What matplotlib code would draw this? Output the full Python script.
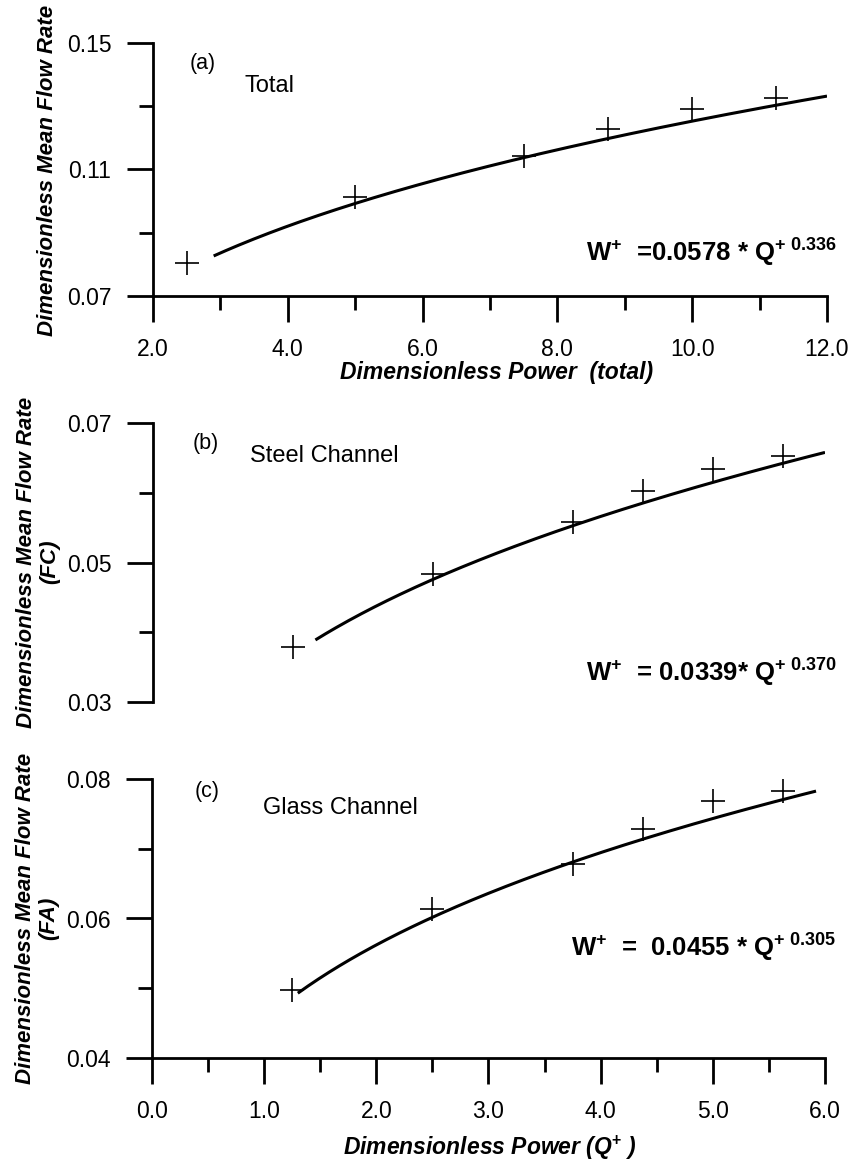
import numpy as np
import matplotlib
matplotlib.use("Agg")
import matplotlib.pyplot as plt
from matplotlib.ticker import MultipleLocator, FixedLocator, FormatStrFormatter

plt.rcParams['font.family'] = ['Liberation Sans', 'DejaVu Sans']
plt.rcParams['mathtext.fontset'] = 'custom'
plt.rcParams['mathtext.rm'] = 'Liberation Sans'
plt.rcParams['mathtext.bf'] = 'Liberation Sans:bold'
plt.rcParams['mathtext.it'] = 'Liberation Sans:italic'

# Measured dimensionless power and mean flow rate
q_total = [2.5, 5.0, 7.5, 8.75, 10.0, 11.25]
w_total = [0.0803, 0.1013, 0.1144, 0.1228, 0.1291, 0.1326]

q_channel = [1.25, 2.5, 3.75, 4.375, 5.0, 5.625]
w_steel = [0.0379, 0.0483, 0.0558, 0.0602, 0.0634, 0.0653]
w_glass = [0.0497, 0.0614, 0.0678, 0.0729, 0.0768, 0.0783]

# Power-law fits W+ = a * Q+^b
fit_total = (0.0578, 0.336)
fit_steel = (0.0339, 0.370)
fit_glass = (0.0455, 0.305)
fit_range_total = (2.9, 12.0)
fit_range_steel = (1.45, 6.0)
fit_range_glass = (1.3, 5.92)

# Axis ticks
yticks_total = [0.07, 0.11, 0.15]
yminor_total = [0.09, 0.13]
yticks_steel = [0.03, 0.05, 0.07]
yminor_steel = [0.04, 0.06]
yticks_glass = [0.04, 0.06, 0.08]
yminor_glass = [0.05, 0.07]

W, H = 853, 1164
fig = plt.figure(figsize=(W / 100, H / 100), dpi=100)


def px_axes(left, top, right, bottom):
    return fig.add_axes([left / W, 1 - bottom / H, (right - left) / W, (bottom - top) / H])


ax_a = px_axes(153, 43, 827, 296)
ax_b = px_axes(153, 423, 825, 702)
ax_c = px_axes(152, 779, 825, 1058)


def style(ax, show_x=True):
    for s in ['top', 'right']:
        ax.spines[s].set_visible(False)
    ax.spines['left'].set_linewidth(2.0)
    ax.spines['bottom'].set_linewidth(2.0)
    ax.tick_params(which='major', direction='out', length=19, width=2.0,
                   labelsize=16.5, pad=11, color='black')
    ax.tick_params(which='minor', direction='out', length=10, width=2.0)
    if not show_x:
        ax.spines['bottom'].set_visible(False)
        ax.tick_params(axis='x', which='both', bottom=False, labelbottom=False)


def set_yticks(ax, major, minor):
    ax.yaxis.set_major_locator(FixedLocator(major))
    ax.yaxis.set_minor_locator(FixedLocator(minor))
    ax.yaxis.set_major_formatter(FormatStrFormatter('%.2f'))


def draw(ax, q, w, fit, rng):
    qq = np.linspace(rng[0], rng[1], 200)
    ax.plot(qq, fit[0] * qq ** fit[1], color='black', lw=2.2, solid_capstyle='butt')
    ax.plot(q, w, linestyle='none', marker='+', markersize=17, mew=1.2, color='black',
            clip_on=False)


# (a) total
draw(ax_a, q_total, w_total, fit_total, fit_range_total)
ax_a.set_xlim(2.0, 12.0)
ax_a.set_ylim(0.07, 0.15)
ax_a.xaxis.set_major_locator(MultipleLocator(2.0))
ax_a.xaxis.set_minor_locator(MultipleLocator(1.0))
ax_a.xaxis.set_major_formatter(FormatStrFormatter('%.1f'))
set_yticks(ax_a, yticks_total, yminor_total)
style(ax_a)

# (b) steel channel
draw(ax_b, q_channel, w_steel, fit_steel, fit_range_steel)
ax_b.set_xlim(0.0, 6.0)
ax_b.set_ylim(0.03, 0.07)
set_yticks(ax_b, yticks_steel, yminor_steel)
style(ax_b, show_x=False)

# (c) glass channel
draw(ax_c, q_channel, w_glass, fit_glass, fit_range_glass)
ax_c.set_xlim(0.0, 6.0)
ax_c.set_ylim(0.04, 0.08)
ax_c.xaxis.set_major_locator(MultipleLocator(1.0))
ax_c.xaxis.set_minor_locator(MultipleLocator(0.5))
ax_c.xaxis.set_major_formatter(FormatStrFormatter('%.1f'))
set_yticks(ax_c, yticks_glass, yminor_glass)
style(ax_c)


def ftext(x, y, s, **kw):
    fig.text(x / W, 1 - y / H, s, **kw)


lab = dict(fontsize=16, fontweight='bold', fontstyle='italic', rotation=90,
           ha='center', va='center')
ftext(48, 170, 'Dimensionless Mean Flow Rate', **lab)
ftext(38, 562, 'Dimensionless Mean Flow Rate\n(FC)', multialignment='center',
      linespacing=1.15, **lab)
ftext(37, 918, 'Dimensionless Mean Flow Rate\n(FA)', multialignment='center',
      linespacing=1.15, **lab)

xl = dict(fontsize=16.5, fontweight='bold', fontstyle='italic', ha='center', va='center')
ftext(497, 372, 'Dimensionless Power  (total)', **xl)
ftext(490, 1148, r'Dimensionless Power (Q$^{\mathbf{+}}$ )', **xl)

tag = dict(fontsize=15.5, ha='center', va='center')
ftext(203, 63, '(a)', **tag)
ftext(206, 443, '(b)', **tag)
ftext(207, 792, '(c)', **tag)

name = dict(fontsize=17, ha='left', va='center')
ftext(245, 86, 'Total', **name)
ftext(250, 456, 'Steel Channel', **name)
ftext(263, 808, 'Glass Channel', **name)

eq = dict(fontsize=18.5, fontweight='bold', ha='right', va='baseline')
ftext(836, 262, r'W$^{\mathbf{+}}$  =0.0578 * Q$^{\mathbf{+\ 0.336}}$', **eq)
ftext(836, 682, r'W$^{\mathbf{+}}$  = 0.0339* Q$^{\mathbf{+\ 0.370}}$', **eq)
ftext(836, 957, r'W$^{\mathbf{+}}$  =  0.0455 * Q$^{\mathbf{+\ 0.305}}$', **eq)

fig.savefig('out.png', dpi=100)
